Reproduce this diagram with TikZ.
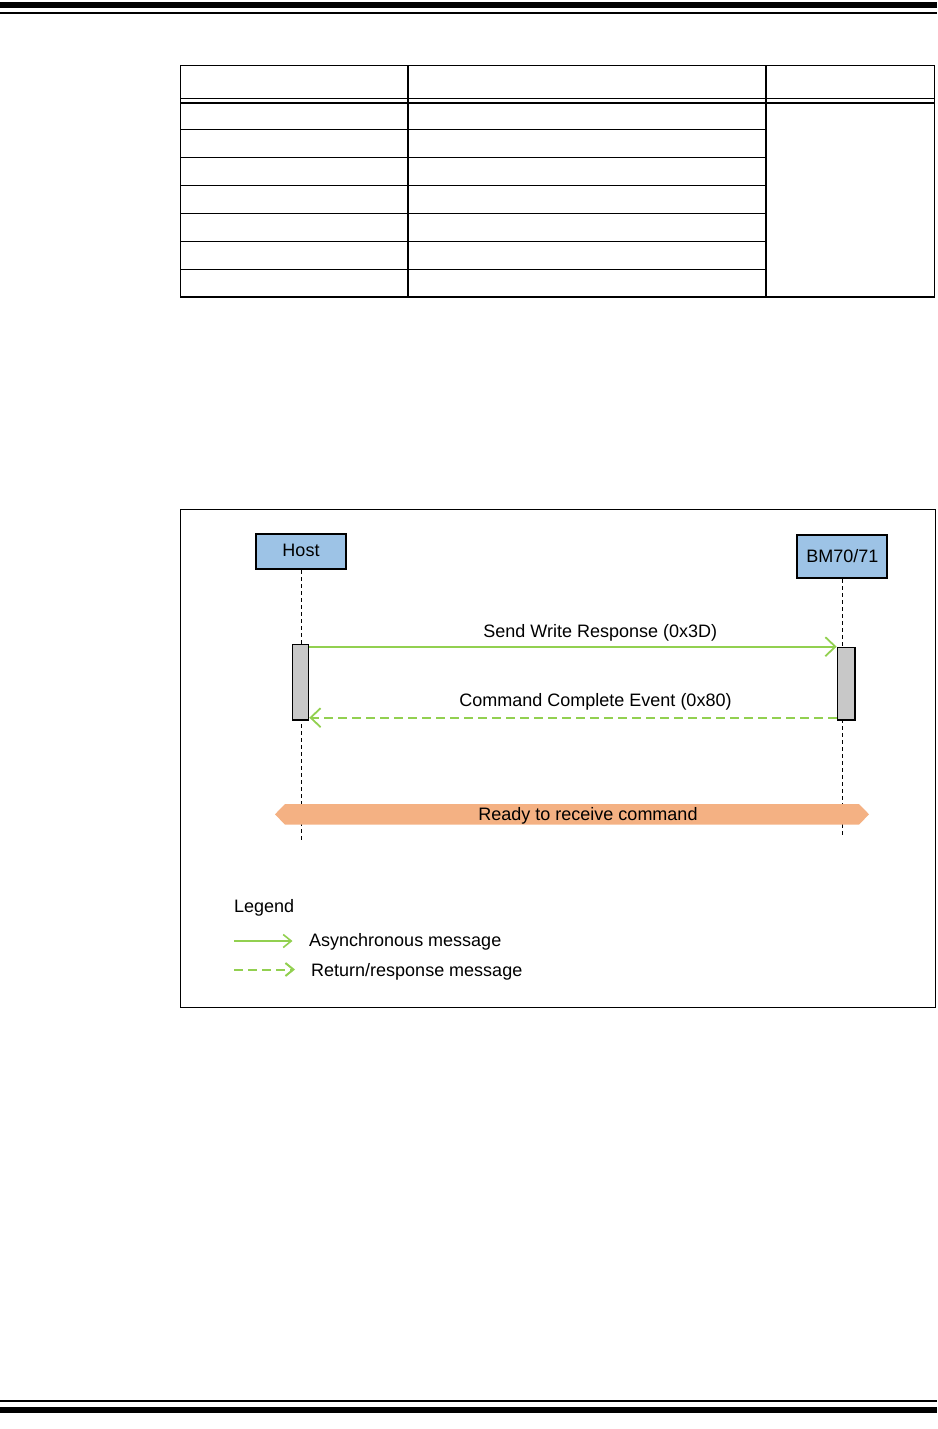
\documentclass[tikz,border=0pt]{standalone}
\usepackage{fontspec}
\setmainfont{Liberation Sans}
\usetikzlibrary{arrows.meta}
\definecolor{hostblue}{HTML}{9DC3E6}
\definecolor{actgray}{HTML}{C8C8C8}
\definecolor{msggreen}{HTML}{92D050}
\definecolor{bannerorange}{HTML}{F4B183}
\begin{document}
\begin{tikzpicture}[x=1pt,y=-1pt,
  lbl/.style={font=\fontsize{18}{21}\selectfont, inner sep=0pt},
  actor/.style={draw=black, line width=2pt, fill=hostblue, minimum width=90pt, inner sep=0pt, font=\fontsize{18}{21}\selectfont},
  actbox/.style={draw=black, line width=1.6pt, fill=actgray, inner sep=0pt},
  lifeline/.style={line width=0.9pt, dash pattern=on 4pt off 3pt},
  asyncmsg/.style={draw=msggreen, line width=1.8pt, -{Straight Barb[length=10pt,width=19pt]}},
  retmsg/.style={draw=msggreen, line width=1.8pt, dash pattern=on 9pt off 5pt, -{Straight Barb[length=10pt,width=19pt]}},
  legasync/.style={draw=msggreen, line width=1.6pt, -{Straight Barb[length=8pt,width=13pt]}},
  legret/.style={draw=msggreen, line width=2pt, dash pattern=on 9pt off 5pt, -{Straight Barb[length=8pt,width=13pt]}},
  tbl/.style={line width=1.2pt},
  frame/.style={line width=1pt},
  rule/.style={fill=black}
]
\useasboundingbox (0,0) rectangle (937,1429);
% page rules
\fill[rule] (0,2.3) rectangle (937,7.7);
\fill[rule] (0,12.3) rectangle (937,13.7);
\fill[rule] (0,1400) rectangle (937,1401.7);
\fill[rule] (0,1406.7) rectangle (937,1412.7);
% table
\draw[tbl] (180.5,65.7) rectangle (934.5,297);
\draw[tbl] (408,65.7) -- (408,297);
\draw[tbl] (766,65.7) -- (766,297);
\draw[tbl] (180.5,98.3) -- (934.5,98.3);
\draw[tbl] (180.5,103) -- (934.5,103);
\foreach \yy in {129.3,157.3,185.3,213.3,241.3,269.3}{
  \draw[tbl] (180.5,\yy) -- (766,\yy);
}
% diagram frame
\draw[frame] (180.3,509.3) rectangle (935.5,1007);
% actors
\node[actor, minimum height=35pt] (host) at (301,551.8) {\raisebox{2pt}{Host}};
\node[actor, minimum height=43pt] (bm) at (842.3,556.8) {\raisebox{1.8pt}{BM70/71}};
\coordinate (hostend) at (301,841);
\coordinate (bmend) at (842.3,838);
\draw[lifeline] (host.south) -- (hostend);
\draw[lifeline] (bm.south) -- (bmend);
% activation boxes
\node[actbox, minimum width=16pt, minimum height=75.7pt] (hostact) at (300.5,682.4) {};
\node[actbox, minimum width=17.7pt, minimum height=72.7pt] (bmact) at (846.3,683.8) {};
% messages
\draw[asyncmsg] (hostact.east |- bmact.north west) -- (bmact.north west);
\node[lbl, anchor=base] (sendlbl) at (600.2,637.3) {Send Write Response (0x3D)};
\draw[retmsg] ([yshift=3.3pt]bmact.south west) -- ([yshift=3.3pt]bmact.south west -| hostact.east);
\node[lbl, anchor=base] (cmdlbl) at (595.5,706.7) {Command Complete Event (0x80)};
% banner
\fill[bannerorange] (275,814.3) -- (285,804) -- (859,804) -- (869,814.3) -- (859,824.7) -- (285,824.7) -- cycle;
\node[lbl, anchor=base] (ready) at (588,820) {Ready to receive command};
% legend
\node[lbl, anchor=base west] (legend) at (234,912) {Legend};
\coordinate (a1) at (234,941);
\coordinate (a2) at (292.5,941);
\draw[legasync] (a1) -- (a2);
\node[lbl, anchor=base west] (asynclbl) at (309,946.7) {Asynchronous message};
\coordinate (r1) at (234,969.5);
\coordinate (r2) at (295,969.5);
\draw[legret] (r1) -- (r2);
\node[lbl, anchor=base west] (retlbl) at (311,976.7) {Return/response message};
\end{tikzpicture}
\end{document}
